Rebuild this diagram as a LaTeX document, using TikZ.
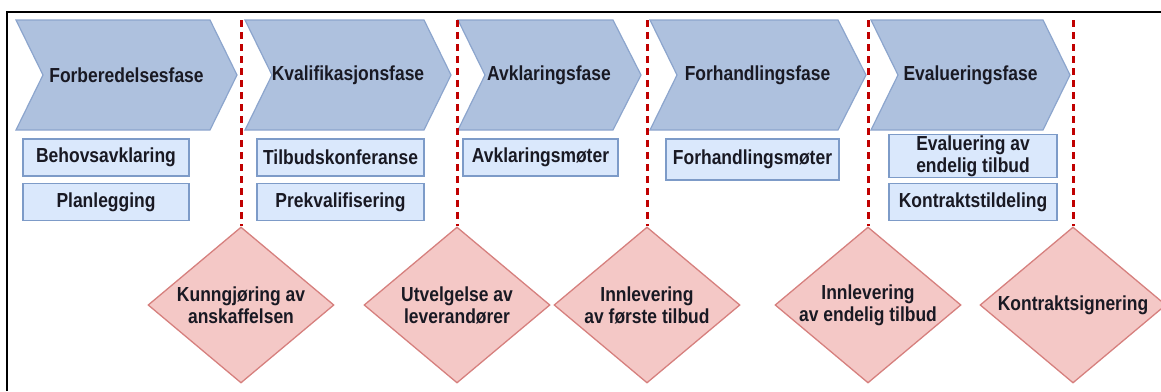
\documentclass[tikz,border=0pt]{standalone}
\usepackage{fontspec}
\setmainfont{Liberation Sans}[FakeStretch=0.86]
\usepackage{xcolor}
\usepackage{tikz}
\usetikzlibrary{positioning,shapes.geometric}
\definecolor{chevfill}{RGB}{174,193,222}
\definecolor{chevline}{RGB}{140,165,205}
\definecolor{taskfill}{RGB}{218,232,252}
\definecolor{taskline}{RGB}{125,155,200}
\definecolor{msfill}{RGB}{244,200,198}
\definecolor{msline}{RGB}{214,128,126}
\definecolor{gatered}{RGB}{192,0,0}
\definecolor{txtcol}{RGB}{25,25,35}

\begin{document}
\begin{tikzpicture}[
    x=1pt, y=-1pt,
    lbl/.style={font=\bfseries\fontsize{20.3}{22}\selectfont, text=txtcol, align=center},
    chev/.style={fill=chevfill, draw=chevline, line width=1.2pt},
    phase/.style={lbl, inner sep=0pt},
    task/.style={lbl, draw=taskline, fill=taskfill, line width=1.3pt, minimum height=37pt, inner sep=1pt},
    milestone/.style={diamond, draw=msline, fill=msfill, line width=1.3pt, minimum width=186pt, minimum height=156pt, inner sep=0pt},
    gate/.style={draw=gatered, line width=3pt, dash pattern=on 7pt off 5pt}
]
\useasboundingbox (0,0) rectangle (1161,391);
\clip (0,0) rectangle (1161,391);

% frame
\draw[line width=2.5pt] (7,391) -- (7,12) -- (1161,12);

% phases
\draw[chev] (16,20) -- (210,20) -- (237,75) -- (210,130) -- (16,130) -- (43,75) -- cycle;
\draw[chev] (245,20) -- (424,20) -- (451,75) -- (424,130) -- (245,130) -- (272,75) -- cycle;
\draw[chev] (458,20) -- (613,20) -- (641,75) -- (613,130) -- (458,130) -- (485,75) -- cycle;
\draw[chev] (650,20) -- (838,20) -- (866,75) -- (838,130) -- (650,130) -- (677,75) -- cycle;
\draw[chev] (871,20) -- (1043,20) -- (1070,75) -- (1043,130) -- (871,130) -- (898,75) -- cycle;
\node[phase] (p1) at (126.5,75) {Forberedelsesfase};
\node[phase] (p2) at (348,75) {Kvalifikasjonsfase};
\node[phase] (p3) at (549,75) {Avklaringsfase};
\node[phase] (p4) at (757.5,75) {Forhandlingsfase};
\node[phase] (p5) at (970.5,75) {Evalueringsfase};

% activities
\node[task, minimum width=166pt] (b11) at (106,157.5) {Behovsavklaring};
\node[task, minimum width=166pt, below=6pt of b11] (b12) {Planlegging};
\node[task, minimum width=167pt] (b21) at (340.5,157.5) {Tilbudskonferanse};
\node[task, minimum width=167pt, below=6pt of b21] (b22) {Prekvalifisering};
\node[task, minimum width=155pt] (b31) at (540.5,157.5) {Avklaringsmøter};
\node[task, minimum width=173pt, minimum height=41pt] (b41) at (752.5,159.5) {Forhandlingsmøter};
\node[task, minimum width=168pt, minimum height=42pt] (b51) at (973,156) {Evaluering av\\endelig tilbud};
\node[task, minimum width=168pt, below=5pt of b51] (b52) {Kontraktstildeling};

% milestones
\node[milestone, label={[lbl]center:Kunngjøring av\\anskaffelsen}] (m1) at (241,305) {};
\node[milestone, label={[lbl]center:Utvelgelse av\\leverandører}] (m2) at (457,305) {};
\node[milestone, label={[lbl]center:Innlevering\\av første tilbud}] (m3) at (647,305) {};
\node[milestone, label={[lbl]center:Innlevering\\av endelig tilbud}] (m4) at (868,305) {};
\node[milestone, label={[lbl]center:Kontraktsignering}] (m5) at (1073,305) {};

\coordinate (g1) at (241,20);
\coordinate (g2) at (457,20);
\coordinate (g3) at (647,20);
\coordinate (g4) at (868,20);
\coordinate (g5) at (1073,20);
\draw[gate] (g1) -- (m1.north);
\draw[gate] (g2) -- (m2.north);
\draw[gate] (g3) -- (m3.north);
\draw[gate] (g4) -- (m4.north);
\draw[gate] (g5) -- (m5.north);
\end{tikzpicture}
\end{document}
